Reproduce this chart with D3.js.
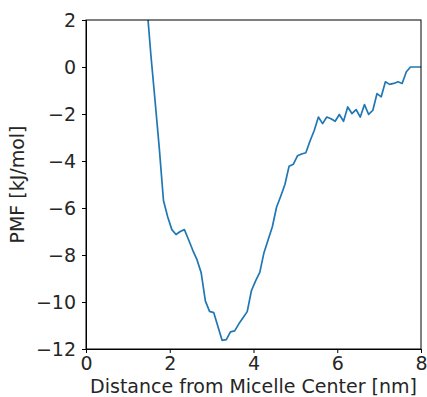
<!DOCTYPE html>
<html>
<head>
<meta charset="utf-8">
<script src="https://cdnjs.cloudflare.com/ajax/libs/d3/7.8.5/d3.min.js"></script>
<style>
  body { margin: 0; background: #fff; }
  svg { display: block; font-family: "DejaVu Sans", sans-serif; }
</style>
</head>
<body>
<svg id="chart" width="427" height="397"></svg>
<script>
// distance from micelle center (nm)
var distance = [1.45, 1.55, 1.65, 1.75, 1.85, 1.95, 2.05, 2.15, 2.25, 2.35,
  2.45, 2.55, 2.65, 2.75, 2.85, 2.95, 3.05, 3.15, 3.25, 3.35,
  3.45, 3.55, 3.65, 3.75, 3.85, 3.95, 4.05, 4.15, 4.25, 4.35,
  4.45, 4.55, 4.65, 4.75, 4.85, 4.95, 5.05, 5.15, 5.25, 5.35,
  5.45, 5.55, 5.65, 5.75, 5.85, 5.95, 6.05, 6.15, 6.25, 6.35,
  6.45, 6.55, 6.65, 6.75, 6.85, 6.95, 7.05, 7.15, 7.25, 7.35,
  7.45, 7.55, 7.65, 7.75, 7.85, 7.95, 8.05];
// PMF (kJ/mol)
var pmf = [2.7, 0.5, -1.45, -3.45, -5.68, -6.37, -6.92, -7.13, -7.0, -6.92,
  -7.35, -7.8, -8.2, -8.75, -9.95, -10.4, -10.45, -11.04, -11.63, -11.6,
  -11.27, -11.23, -10.93, -10.67, -10.41, -9.52, -9.1, -8.74, -7.9, -7.35,
  -6.8, -5.97, -5.5, -5.0, -4.22, -4.14, -3.78, -3.7, -3.65, -3.15,
  -2.7, -2.13, -2.41, -2.13, -2.2, -2.31, -2.02, -2.31, -1.7, -1.98,
  -1.81, -2.13, -1.6, -2.02, -1.84, -1.13, -1.27, -0.63, -0.74, -0.7,
  -0.63, -0.7, -0.2, 0.0, 0.0, 0.0, 0.0];
var xTicks = [0, 2, 4, 6, 8];
var yTicks = [2, 0, -2, -4, -6, -8, -10, -12];

var svg = d3.select("#chart"),
    margin = {top: 20, right: 6, bottom: 48, left: 86},
    width = 427 - margin.left - margin.right,
    height = 397 - margin.top - margin.bottom;

var x = d3.scaleLinear().domain([0, 8]).range([0, width]),
    y = d3.scaleLinear().domain([-12, 2]).range([height, 0]);

var data = distance.map(function(d, i) { return {x: d, y: pmf[i]}; });

var g = svg.append("g")
    .attr("transform", "translate(" + margin.left + "," + margin.top + ")");

g.append("clipPath")
    .attr("id", "plotClip")
  .append("rect")
    .attr("width", width)
    .attr("height", height);

var line = d3.line()
    .x(function(d) { return x(d.x); })
    .y(function(d) { return y(d.y); });

g.append("path")
    .datum(data)
    .attr("clip-path", "url(#plotClip)")
    .attr("fill", "none")
    .attr("stroke", "#1f77b4")
    .attr("stroke-width", 1.7)
    .attr("stroke-linejoin", "round")
    .attr("d", line);

var minus = function(d) { return d3.format("d")(d).replace("-", "\u2212"); };
var xAxis = d3.axisBottom(x).tickValues(xTicks).tickSize(4).tickPadding(3.5).tickFormat(minus);
var yAxis = d3.axisLeft(y).tickValues(yTicks).tickSize(4).tickPadding(6).tickFormat(minus);

g.append("g")
    .attr("class", "axis axis--x")
    .attr("transform", "translate(0," + height + ")")
    .call(xAxis);

g.append("g")
    .attr("class", "axis axis--y")
    .call(yAxis);

// box spines
g.append("rect")
    .attr("width", width)
    .attr("height", height)
    .attr("fill", "none")
    .attr("stroke", "#000")
    .attr("stroke-width", 1);

g.selectAll(".axis path").attr("stroke", "#000");
g.selectAll(".axis line").attr("stroke", "#000");
g.selectAll(".axis text")
    .attr("fill", "#262626")
    .style("font-size", "19px")
    .style("font-family", "DejaVu Sans, sans-serif");

g.append("text")
    .attr("x", width / 2)
    .attr("y", height + 44)
    .attr("text-anchor", "middle")
    .attr("fill", "#262626")
    .style("font-size", "19px")
    .text("Distance from Micelle Center [nm]");

g.append("text")
    .attr("transform", "rotate(-90)")
    .attr("x", -height / 2)
    .attr("y", -62)
    .attr("text-anchor", "middle")
    .attr("fill", "#262626")
    .style("font-size", "19px")
    .text("PMF [kJ/mol]");
</script>
</body>
</html>
